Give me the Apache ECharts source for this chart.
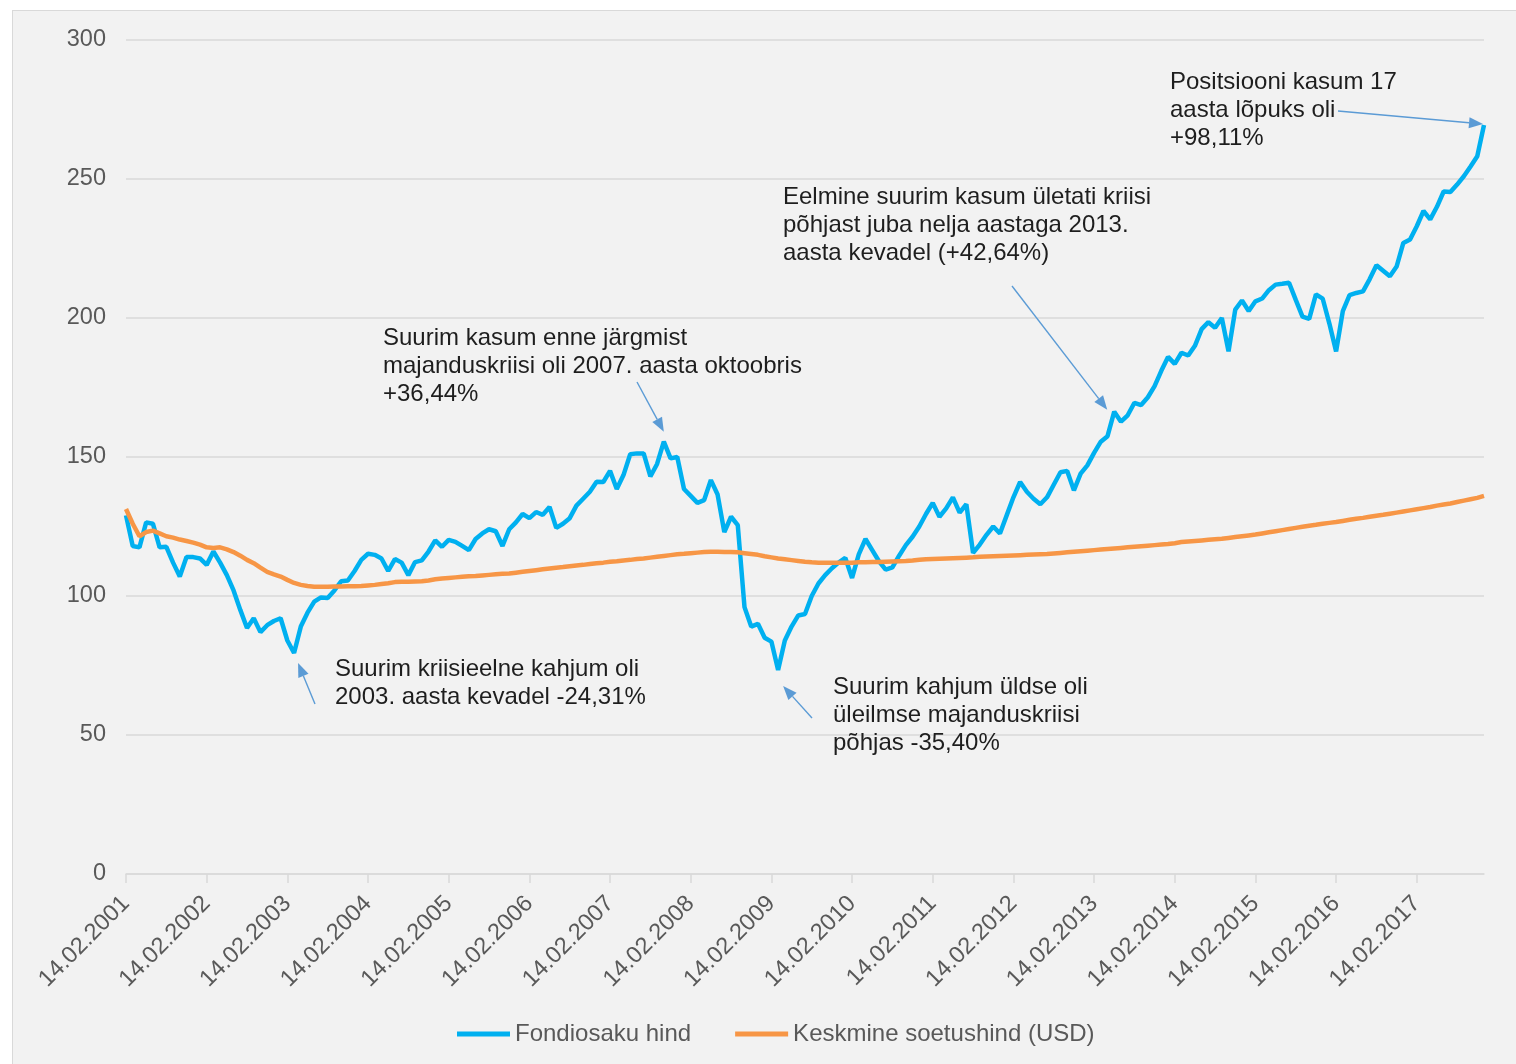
<!DOCTYPE html>
<html>
<head>
<meta charset="utf-8">
<script src="https://cdn.jsdelivr.net/npm/echarts@6/dist/echarts.min.js"></script>
<style>
html,body{margin:0;padding:0;background:#ffffff;width:1516px;height:1064px;overflow:hidden;}
#panel{position:absolute;left:12px;top:10px;width:1520px;height:1070px;background:#f2f2f2;border:1px solid #d9d9d9;box-sizing:border-box;}
#chart{position:absolute;left:0;top:0;width:1516px;height:1064px;}
</style>
</head>
<body>
<div id="panel"></div>
<div id="chart"></div>
<script>
// Monthly observations, 14.02.2001 ... 14.12.2017
const startYear = 2001, startMonth = 2, monthCount = 203;
const yTicks = [0, 50, 100, 150, 200, 250, 300];
const seriesNames = ["Fondiosaku hind", "Keskmine soetushind (USD)"];

const fundPrice = [
129,118,117.5,126.5,126,117.5,117.7,112,107,114,114,113.5,
111.2,116,112,107.5,102,95,88.5,92,87,89.5,91,92,
84,79.5,89,94,98,99.5,99.3,102,105.3,105.6,109,113,
115.2,114.8,113.5,109,113.3,112,107.5,112.2,112.8,116,120,117.7,
120.2,119.5,118,116.5,120.5,122.5,124,123.3,118,124,126.5,129.5,
128,130.2,129.2,132,124.5,126,128,132.5,135,137.5,141.1,141,
145,138.5,143.5,151,151.3,151.3,143,147.5,155.5,149.5,150,138.5,
136,133.5,134.5,141.7,136.5,123,128.5,125.5,96,89,90,85,
83.6,73.4,84,89,93,93.5,100,104.5,107.5,110,112,113.7,
106.5,115,120.5,116.5,112.5,109.5,110.3,114.5,118.3,121.3,125,129.5,
133.5,128.5,131.5,135.5,130,133,115.5,118.5,122,125,122.5,129,
135.5,141,137.5,135,133,135.5,140,144.5,145,138,144,147,
151.5,155.5,157.5,166.3,162.7,165,169.5,168.7,171.5,175.5,181,186,
183.5,187.5,186.5,190,196,198.5,196.5,200,188,203,206.3,202.5,
206,207,210,212,212.3,212.7,206.5,200.5,199.7,208.5,207,198,
188,202.5,208.2,209,209.6,214,219,217,215,218.5,227,228.2,
233,238.5,235.5,240,245.5,245.3,248,251,254.5,258.2,269.4
];

const avgCost = [
131.3,126,121.5,123,123.5,122.5,121.5,121,120.3,119.8,119.2,118.5,
117.5,117.3,117.5,116.8,115.8,114.5,113,111.8,110.2,108.7,107.8,107,
105.8,104.7,104,103.6,103.3,103.3,103.3,103.4,103.4,103.5,103.5,103.6,
103.8,104,104.3,104.6,105,105.1,105.1,105.2,105.3,105.6,106,106.3,
106.5,106.7,106.9,107.1,107.2,107.4,107.6,107.8,108,108.1,108.4,108.7,
109,109.3,109.6,109.9,110.2,110.4,110.7,111,111.2,111.5,111.8,112,
112.3,112.5,112.8,113,113.3,113.5,113.8,114.1,114.4,114.7,115,115.2,
115.4,115.6,115.8,115.9,115.9,115.8,115.8,115.7,115.4,115.1,114.8,114.3,
113.9,113.5,113.2,112.9,112.6,112.3,112.1,112,112,112,112,112,
112,112.1,112.1,112.2,112.2,112.3,112.4,112.5,112.6,112.8,113,113.2,
113.3,113.4,113.5,113.6,113.7,113.8,113.9,114.1,114.2,114.3,114.4,114.5,
114.6,114.7,114.8,114.9,115,115.1,115.3,115.5,115.7,115.9,116.1,116.3,
116.5,116.7,116.9,117.1,117.3,117.5,117.7,117.9,118.1,118.3,118.5,118.7,
119,119.4,119.6,119.8,120,120.2,120.4,120.6,120.9,121.2,121.5,121.8,
122.1,122.5,122.9,123.3,123.7,124.1,124.5,124.9,125.3,125.6,126,126.3,
126.6,127,127.4,127.8,128.1,128.5,128.9,129.2,129.6,130,130.4,130.8,
131.2,131.6,132,132.5,132.9,133.3,133.8,134.3,134.8,135.3,136
];

// Annotation texts and the data point each arrow points at
const annotationTexts = [
  ["Positsiooni kasum 17", "aasta lõpuks oli", "+98,11%"],
  ["Eelmine suurim kasum ületati kriisi", "põhjast juba nelja aastaga 2013.", "aasta kevadel (+42,64%)"],
  ["Suurim kasum enne järgmist", "majanduskriisi oli 2007. aasta oktoobris", "+36,44%"],
  ["Suurim kriisieelne kahjum oli", "2003. aasta kevadel -24,31%"],
  ["Suurim kahjum üldse oli", "üleilmse majanduskriisi", "põhjas -35,40%"]
];
const annotationTargets = [202, 147, 80, 25, 97];

// build category labels
const categories = [];
for (let i = 0; i < monthCount; i++) {
  const m = (startMonth - 1 + i) % 12 + 1;
  const y = startYear + Math.floor((startMonth - 1 + i) / 12);
  categories.push("14." + (m < 10 ? "0" + m : m) + "." + y);
}

const FONT = "'Liberation Sans', Arial, sans-serif";
const chart = echarts.init(document.getElementById('chart'), null, {renderer: 'canvas'});

const option = {
  backgroundColor: 'transparent',
  animation: false,
  grid: {left: 126, right: 32, top: 40, bottom: 190, containLabel: false},
  legend: {
    left: 452, top: 1017,
    itemWidth: 53, itemHeight: 5, itemGap: 44,
    icon: 'rect',
    textStyle: {fontFamily: FONT, fontSize: 24, color: '#595959'},
    data: seriesNames
  },
  xAxis: {
    type: 'category',
    data: categories,
    boundaryGap: false,
    axisLine: {show: true, lineStyle: {color: '#d9d9d9', width: 1.5}},
    axisTick: {show: true, interval: 11, length: 9, lineStyle: {color: '#d9d9d9', width: 1.5}},
    axisLabel: {interval: 11, rotate: 45, margin: 26, fontFamily: FONT, fontSize: 23.5, color: '#595959'},
    splitLine: {show: false}
  },
  yAxis: {
    type: 'value',
    min: yTicks[0], max: yTicks[yTicks.length - 1], interval: yTicks[1] - yTicks[0],
    axisLine: {show: false},
    axisTick: {show: false},
    axisLabel: {margin: 20, fontFamily: FONT, fontSize: 23.5, color: '#595959'},
    splitLine: {lineStyle: {color: '#d9d9d9', width: 1.5}}
  },
  series: [
    {
      name: seriesNames[0], type: 'line', data: fundPrice,
      symbol: 'none', lineStyle: {color: '#00b0f0', width: 4.5}, itemStyle: {color: '#00b0f0'}
    },
    {
      name: seriesNames[1], type: 'line', data: avgCost,
      symbol: 'none', lineStyle: {color: '#f79646', width: 4.5}, itemStyle: {color: '#f79646'}
    }
  ]
};
chart.setOption(option);

// annotation layout (text position, arrow start, offset of arrow tip from data point)
const annLayout = [
  {x: 1170, y: 68,  from: [1338, 111], off: [-1, -1]},
  {x: 783,  y: 183, from: [1012, 286], off: [-7, -2]},
  {x: 383,  y: 324, from: [637, 382],  off: [0, -10]},
  {x: 335,  y: 655, from: [315, 704],  off: [4, 10]},
  {x: 833,  y: 673, from: [812, 718],  off: [5, 16]}
];

const elements = [];
const ARROW = '#5b9bd5';
annotationTexts.forEach((lines, k) => {
  const L = annLayout[k];
  elements.push({
    type: 'text', z: 100,
    style: {x: L.x, y: L.y, text: lines.join('\n'), fontFamily: FONT, fontSize: 24, lineHeight: 28, fill: '#1e1e1e', verticalAlign: 'top', align: 'left'}
  });
  const idx = annotationTargets[k];
  const p = chart.convertToPixel({seriesIndex: 0}, [idx, fundPrice[idx]]);
  const tx = p[0] + L.off[0], ty = p[1] + L.off[1];
  const sx = L.from[0], sy = L.from[1];
  const ang = Math.atan2(ty - sy, tx - sx);
  const hl = 14, hw = 5.5;
  const bx = tx - hl * Math.cos(ang), by = ty - hl * Math.sin(ang);
  elements.push({
    type: 'line', z: 100,
    shape: {x1: sx, y1: sy, x2: bx, y2: by},
    style: {stroke: ARROW, lineWidth: 1.4}
  });
  elements.push({
    type: 'polygon', z: 100,
    shape: {points: [[tx, ty], [bx + hw * Math.sin(ang), by - hw * Math.cos(ang)], [bx - hw * Math.sin(ang), by + hw * Math.cos(ang)]]},
    style: {fill: ARROW}
  });
});
chart.setOption({graphic: {elements: elements}});
</script>
</body>
</html>
